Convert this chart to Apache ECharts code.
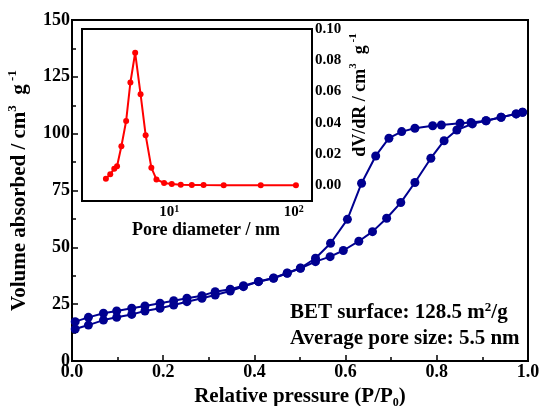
<!DOCTYPE html>
<html>
<head>
<meta charset="utf-8">
<script src="https://cdn.jsdelivr.net/npm/echarts@6/dist/echarts.min.js"></script>
<style>
html, body { margin: 0; padding: 0; background: #fff; }
#main { width: 543px; height: 406px; }
</style>
</head>
<body>
<div id="main"></div>
<script>
// adsorption branch (lower curve)
var adsP = [0.007, 0.036, 0.069, 0.098, 0.131, 0.160, 0.193, 0.223, 0.252, 0.285, 0.314, 0.347, 0.376,
    0.409, 0.442, 0.472, 0.501, 0.534, 0.566, 0.595, 0.629, 0.659, 0.690, 0.721, 0.752, 0.787, 0.816,
    0.844, 0.878, 0.908, 0.941, 0.974, 0.988];
var adsV = [14.1, 15.8, 18.0, 19.2, 20.5, 22.0, 23.2, 24.6, 26.1, 27.6, 29.0, 30.8, 32.7,
    34.9, 36.4, 38.6, 40.8, 43.7, 45.9, 48.6, 52.7, 56.9, 62.8, 69.7, 78.5, 89.2, 96.9,
    101.6, 104.3, 105.7, 107.2, 108.7, 109.4];
// desorption branch (upper curve)
var desP = [0.988, 0.974, 0.941, 0.908, 0.875, 0.851, 0.810, 0.791, 0.752, 0.723, 0.695, 0.666, 0.635,
    0.604, 0.567, 0.534, 0.501, 0.472, 0.442, 0.409, 0.376, 0.347, 0.314, 0.285, 0.252, 0.223, 0.193,
    0.160, 0.131, 0.098, 0.069, 0.036, 0.007];
var desV = [109.4, 108.7, 107.2, 105.7, 104.9, 104.6, 103.8, 103.5, 102.4, 100.9, 98.0, 90.2, 78.2,
    62.3, 51.8, 45.2, 40.9, 38.7, 36.5, 35.0, 33.1, 31.6, 30.5, 28.7, 27.6, 26.5, 25.4,
    24.2, 23.2, 22.0, 21.0, 19.2, 17.3];
// pore size distribution (inset)
var poreD = [3.11, 3.37, 3.63, 3.82, 4.14, 4.52, 4.89, 5.34, 5.90, 6.48, 7.20, 7.91, 9.11,
    10.5, 12.4, 15.2, 18.9, 27.4, 54.3, 104];
var poreDv = [0.0043, 0.0071, 0.0107, 0.0122, 0.0250, 0.0412, 0.0658, 0.0848, 0.0583, 0.0321, 0.0113, 0.0038, 0.0015,
    0.0008, 0.0004, 0.0003, 0.0002, 0.0001, 0.0000, 0.0000];
var poreMajorTicks = [10, 100];
var poreMinorTicks = [3, 4, 5, 6, 7, 8, 9, 20, 30, 40, 50, 60, 70, 80, 90];

var FONT = 'Liberation Serif';
var BLUE = '#000090';
var RED = '#ff0000';

function pairs(xs, ys) {
    return xs.map(function (x, i) { return [x, ys[i]]; });
}

function small(size, align, lh) {
    return { fontFamily: FONT, fontWeight: 'bold', fontSize: size, verticalAlign: align, lineHeight: lh };
}

var chart = echarts.init(document.getElementById('main'), null, { renderer: 'canvas' });

var option = {
    animation: false,
    backgroundColor: '#fff',
    grid: [
        { left: 72, right: 15, top: 20, bottom: 45, outerBoundsMode: 'none', containLabel: false,
            show: true, borderColor: '#000', borderWidth: 2, backgroundColor: 'transparent' },
        { left: 82, right: 231, top: 29, bottom: 205, outerBoundsMode: 'none', containLabel: false,
            show: true, borderColor: '#000', borderWidth: 2, backgroundColor: '#fff', z: 5 }
    ],
    xAxis: [
        {
            gridIndex: 0, type: 'value', min: 0, max: 1, interval: 0.2,
            name: 'Relative pressure (P/P{sub|0})', nameLocation: 'middle', nameGap: 16,
            nameTextStyle: { fontFamily: FONT, fontWeight: 'bold', fontSize: 21, color: '#000',
                rich: { sub: small(12, 'bottom', 26) } },
            axisLine: { lineStyle: { color: '#000', width: 2 } },
            axisTick: { inside: true, length: 6, lineStyle: { color: '#000', width: 1.5 } },
            minorTick: { show: true, splitNumber: 2, length: 4, lineStyle: { color: '#000', width: 1.5 } },
            axisLabel: { fontFamily: FONT, fontWeight: 'bold', fontSize: 18, color: '#000', margin: 2,
                formatter: function (v) { return v.toFixed(1); } },
            splitLine: { show: false }
        },
        {
            gridIndex: 1, type: 'log', min: 2, max: 140,
            name: 'Pore diameter / nm', nameLocation: 'middle', nameGap: 18,
            nameTextStyle: { fontFamily: FONT, fontWeight: 'bold', fontSize: 18, color: '#000', padding: [0, 0, 0, 18] },
            axisLine: { lineStyle: { color: '#000', width: 2 } },
            axisTick: { inside: true, length: 5, customValues: poreMajorTicks, lineStyle: { color: '#000', width: 1.5 } },
            axisLabel: { customValues: poreMajorTicks, fontFamily: FONT, fontWeight: 'bold', fontSize: 15, color: '#000', margin: 3,
                formatter: function (v) { return '10{sup|' + Math.round(Math.log10(v)) + '}'; },
                rich: { sup: small(10, 'top', 17) } },
            splitLine: { show: false }
        },
        {
            gridIndex: 1, type: 'log', min: 2, max: 140,
            axisLine: { show: false },
            axisTick: { inside: true, length: 3, customValues: poreMinorTicks, lineStyle: { color: '#000', width: 1.5 } },
            axisLabel: { show: false },
            splitLine: { show: false }
        }
    ],
    yAxis: [
        {
            gridIndex: 0, type: 'value', min: 0, max: 150, interval: 25,
            name: 'Volume absorbed / cm{sup|3}  g{sup| -1}', nameLocation: 'middle', nameGap: 38,
            nameTextStyle: { fontFamily: FONT, fontWeight: 'bold', fontSize: 21, color: '#000',
                rich: { sup: small(13, 'top', 28) } },
            axisLine: { lineStyle: { color: '#000', width: 2 } },
            axisTick: { inside: true, length: 6, lineStyle: { color: '#000', width: 1.5 } },
            minorTick: { show: true, splitNumber: 2, length: 4, lineStyle: { color: '#000', width: 1.5 } },
            axisLabel: { fontFamily: FONT, fontWeight: 'bold', fontSize: 18, color: '#000', margin: 2 },
            splitLine: { show: false }
        },
        {
            gridIndex: 1, type: 'value', position: 'right', min: -0.01, max: 0.10, interval: 0.01,
            name: 'dV/dR / cm{sup|3}  g{sup| -1}', nameLocation: 'middle', nameGap: 36, nameRotate: 90,
            nameTextStyle: { fontFamily: FONT, fontWeight: 'bold', fontSize: 18, color: '#000', padding: [0, 0, 0, 40],
                rich: { sup: small(11, 'top', 24) } },
            axisLine: { lineStyle: { color: '#000', width: 2 } },
            axisTick: { inside: true, length: 4, lineStyle: { color: '#000', width: 1.5 } },
            axisLabel: { fontFamily: FONT, fontWeight: 'bold', fontSize: 15, color: '#000', margin: 3,
                formatter: function (v) {
                    var k = Math.round(v * 100);
                    return (k >= 0 && k % 2 === 0) ? (k / 100).toFixed(2) : '';
                } },
            splitLine: { show: false }
        }
    ],
    series: [
        {
            type: 'line', xAxisIndex: 0, yAxisIndex: 0, data: pairs(adsP, adsV),
            symbol: 'circle', symbolSize: 9, itemStyle: { color: BLUE },
            lineStyle: { color: BLUE, width: 2 }, z: 2
        },
        {
            type: 'line', xAxisIndex: 0, yAxisIndex: 0, data: pairs(desP, desV),
            symbol: 'circle', symbolSize: 9, itemStyle: { color: BLUE },
            lineStyle: { color: BLUE, width: 2 }, z: 2
        },
        {
            type: 'line', xAxisIndex: 1, yAxisIndex: 1, data: pairs(poreD, poreDv),
            symbol: 'circle', symbolSize: 6, itemStyle: { color: RED },
            lineStyle: { color: RED, width: 2 }, z: 10
        }
    ],
    graphic: [
        {
            type: 'text', left: 290, top: 301, z: 20,
            style: {
                text: 'BET surface: 128.5 m{sup|2}/g',
                fontFamily: FONT, fontWeight: 'bold', fontSize: 21, fill: '#000',
                rich: { sup: small(13, 'top', 24) }
            }
        },
        {
            type: 'text', left: 290, top: 328, z: 20,
            style: {
                text: 'Average pore size: 5.5 nm',
                fontFamily: FONT, fontWeight: 'bold', fontSize: 21, fill: '#000'
            }
        }
    ]
};

chart.setOption(option);
</script>
</body>
</html>
